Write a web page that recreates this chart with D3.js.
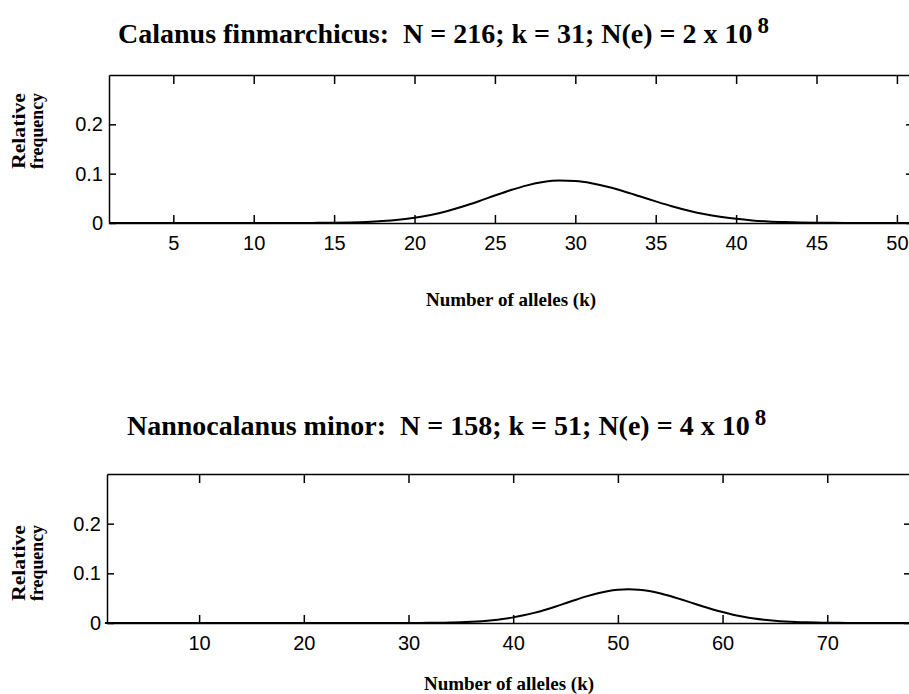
<!DOCTYPE html>
<html>
<head>
<meta charset="utf-8">
<script src="https://cdn.jsdelivr.net/npm/d3@7"></script>
<style>
  body { margin: 0; background: #fff; }
  svg { display: block; }
  .title { font-family: "Liberation Serif", "Times New Roman", serif; font-weight: bold; white-space: pre; }
  .label { font-family: "Liberation Serif", "Times New Roman", serif; font-weight: bold; }
  .axis text { font-family: "Liberation Sans", Arial, sans-serif; font-size: 20px; fill: #000; }
  .axis path, .axis line { stroke: #000; stroke-width: 1.5; }
</style>
</head>
<body>
<div id="chart"></div>
<script>
// Calanus finmarchicus (top panel)
var kTop = [1, 13, 14, 15, 16, 17, 18, 19, 20, 21, 22, 23, 24, 25, 26, 27, 28, 29, 30,
            31, 32, 33, 34, 35, 36, 37, 38, 39, 40, 41, 42, 43, 44, 45, 46, 47, 48, 49, 51];
var freqTop = [0, 0, 0.0003, 0.0006, 0.0012, 0.0022, 0.0039, 0.0066, 0.0106, 0.0164, 0.0239,
               0.0333, 0.0441, 0.0557, 0.0668, 0.0763, 0.0830, 0.0860, 0.0849, 0.0806, 0.0735,
               0.0644, 0.0542, 0.0439, 0.0341, 0.0255, 0.0183, 0.0126, 0.0084, 0.0053, 0.0032,
               0.0019, 0.0011, 0.0006, 0.0003, 0.0002, 0.0001, 0, 0];
var xTicksTop = [5, 10, 15, 20, 25, 30, 35, 40, 45, 50];

// Nannocalanus minor (bottom panel)
var kBottom = [1, 29, 30, 31, 32, 33, 34, 35, 36, 37, 38, 39, 40, 41, 42, 43, 44, 45, 46, 47,
               48, 49, 50, 51, 52, 53, 54, 55, 56, 57, 58, 59, 60, 61, 62, 63, 64, 65, 66, 67,
               68, 69, 70, 71, 72, 73, 74, 78];
var freqBottom = [0, 0, 0.0001, 0.0002, 0.0003, 0.0006, 0.0009, 0.0015, 0.0024, 0.0037, 0.0055,
                  0.0080, 0.0113, 0.0154, 0.0204, 0.0263, 0.0328, 0.0398, 0.0469, 0.0536, 0.0595,
                  0.0641, 0.0670, 0.0680, 0.0670, 0.0643, 0.0600, 0.0543, 0.0478, 0.0410, 0.0342,
                  0.0278, 0.0220, 0.0168, 0.0126, 0.0092, 0.0066, 0.0046, 0.0031, 0.0020, 0.0013,
                  0.0008, 0.0005, 0.0003, 0.0002, 0.0001, 0, 0];
var xTicksBottom = [10, 20, 30, 40, 50, 60, 70];

var yTicks = [0, 0.1, 0.2];

var width = 909, height = 694;

var svg = d3.select("#chart").append("svg")
    .attr("width", width)
    .attr("height", height);

function yFormat(d) {
    return d === 0 ? "0" : d3.format(".1f")(d);
}

// one panel: framed axes, curve, titles
function drawPanel(p) {
    var x = d3.scaleLinear().domain(p.xDomain).range([p.left, p.right]);
    var y = d3.scaleLinear().domain([0, 0.3]).range([p.bottom, p.top]);

    var g = svg.append("g");

    // curve
    var line = d3.line()
        .x(function(d) { return x(d[0]); })
        .y(function(d) { return y(d[1]); })
        .curve(d3.curveMonotoneX);

    g.append("path")
        .datum(d3.zip(p.k, p.freq))
        .attr("d", line)
        .attr("fill", "none")
        .attr("stroke", "#000")
        .attr("stroke-width", 2);

    // axes, ticks pointing inward like matlab
    g.append("g").attr("class", "axis")
        .attr("transform", "translate(0," + p.bottom + ")")
        .call(d3.axisBottom(x).tickValues(p.xTicks).tickSize(-8).tickSizeOuter(0).tickPadding(13));
    g.append("g").attr("class", "axis")
        .attr("transform", "translate(0," + p.top + ")")
        .call(d3.axisTop(x).tickValues(p.xTicks).tickSize(-9).tickSizeOuter(0).tickFormat(""));
    g.append("g").attr("class", "axis")
        .attr("transform", "translate(" + p.left + ",0)")
        .call(d3.axisLeft(y).tickValues(yTicks).tickSize(-7).tickSizeOuter(0).tickPadding(6).tickFormat(yFormat));
    g.append("g").attr("class", "axis")
        .attr("transform", "translate(" + p.right + ",0)")
        .call(d3.axisRight(y).tickValues(yTicks).tickSize(-7).tickSizeOuter(0).tickFormat(""));

    // title with superscript
    var t = g.append("text")
        .attr("class", "title")
        .attr("x", p.titleX)
        .attr("y", p.titleY)
        .attr("font-size", 28);
    t.append("tspan").text(p.title);
    t.append("tspan").attr("dx", 5).attr("dy", -10).attr("font-size", 23).text(p.sup);

    // y label, two lines rotated
    var yl = g.append("text")
        .attr("class", "label")
        .attr("font-size", 19)
        .attr("text-anchor", "middle")
        .attr("transform", "translate(25," + p.yLabelY + ")rotate(-90)");
    yl.append("tspan").attr("x", 0).attr("y", 0)
        .attr("textLength", 76).attr("lengthAdjust", "spacingAndGlyphs").text("Relative");
    yl.append("tspan").attr("x", 0).attr("y", 18)
        .attr("textLength", 76).attr("lengthAdjust", "spacingAndGlyphs").text("frequency");

    // x label
    g.append("text")
        .attr("class", "label")
        .attr("font-size", 19)
        .attr("text-anchor", "middle")
        .attr("x", (p.left + p.right) / 2)
        .attr("y", p.xLabelY)
        .text("Number of alleles (k)");
}

drawPanel({
    k: kTop, freq: freqTop, xTicks: xTicksTop,
    xDomain: [1, 51], left: 109, right: 913, top: 75, bottom: 223,
    title: "Calanus finmarchicus:  N = 216; k = 31; N(e) = 2 x 10", sup: "8",
    titleX: 118, titleY: 43, yLabelY: 131, xLabelY: 306
});

drawPanel({
    k: kBottom, freq: freqBottom, xTicks: xTicksBottom,
    xDomain: [1.2, 78], left: 107, right: 911, top: 474, bottom: 623,
    title: "Nannocalanus minor:  N = 158; k = 51; N(e) = 4 x 10", sup: "8",
    titleX: 127, titleY: 435, yLabelY: 563, xLabelY: 690
});
</script>
</body>
</html>
